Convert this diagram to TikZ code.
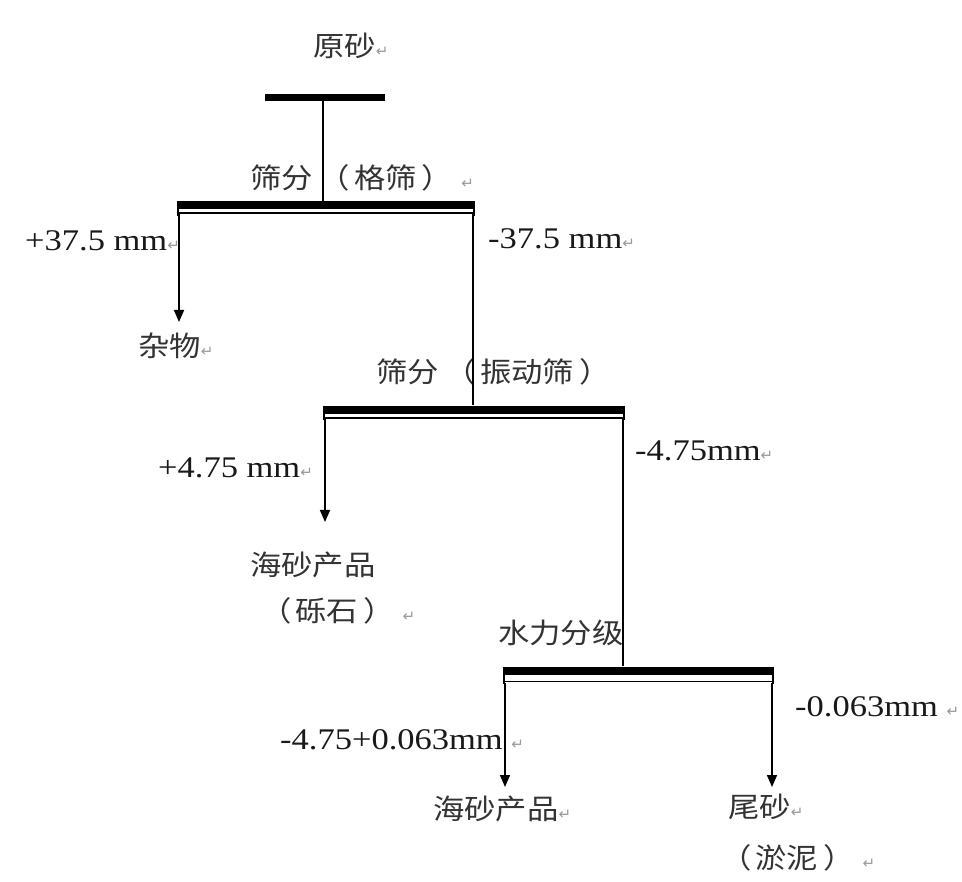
\documentclass[tikz,border=0pt]{standalone}
\usepackage{fontspec}
\setmainfont{Liberation Serif}[FakeStretch=1.15]
\newfontfamily\cjk{Noto Sans CJK SC}[FakeStretch=1.12]
\newfontfamily\symf{DejaVu Sans}
\usetikzlibrary{arrows.meta}
\newcommand\retmark{{\symf\fontsize{15}{15}\selectfont\color{black!40}↵}}
\newcommand\lpar{\hspace{6pt}（\hspace{4pt}}
\newcommand\rpar{\hspace{5pt}）}
\tikzset{
  cn/.style={font=\cjk\fontsize{28}{32}\selectfont, text=black!80, inner sep=0pt, anchor=base west},
  ln/.style={font=\fontsize{30}{32}\selectfont, text=black!90, inner sep=0pt, anchor=base west},
  barline/.style={line width=8pt},
  thinline/.style={line width=1.5pt},
  stem/.style={line width=1.6pt},
  arr/.style={stem, -{Triangle[length=12pt,width=10pt]}}
}
\begin{document}
\begin{tikzpicture}[x=1pt,y=-1pt]
\useasboundingbox[fill=white] (0,0) rectangle (962,882);
% labels
\node[cn] (src) at (313,57) {原砂\retmark};
\node[cn] (l1) at (250,189) {筛分\lpar 格筛\rpar\hspace{8pt}\retmark};
\node[ln] (p375) at (25,251) {+37.5 mm\retmark};
\node[ln] (m375) at (488,249) {-37.5 mm\retmark};
\node[cn] (zawu) at (138,357) {杂物\retmark};
\node[cn] (l2) at (376,383) {筛分\lpar 振动筛\rpar};
\node[ln] (p475) at (158,478) {+4.75 mm\retmark};
\node[ln] (m475) at (635,461) {-4.75mm\retmark};
\node[cn] (hs1) at (250,576) {海砂产品};
\node[cn] (lishi) at (254,621) {\lpar 砾石\rpar\hspace{8pt}\retmark};
\node[cn] (l3) at (498,643) {水力分级};
\node[ln] (m063) at (795,716) {-0.063mm \retmark};
\node[ln] (mid) at (280,749) {-4.75+0.063mm \retmark};
\node[cn] (hs2) at (433,819) {海砂产品\retmark};
\node[cn] (ws) at (728,817) {尾砂\retmark};
\node[cn] (yn) at (714,868) {\lpar 淤泥\rpar\hspace{8pt}\retmark};
% screens
\coordinate (b0l) at (265,98); \coordinate (b0r) at (385,98);
\coordinate (b0m) at (323,98);
\coordinate (s1m) at (323,201);
\coordinate (s1l) at (179,214); \coordinate (s1r) at (473,214);
\coordinate (s2t) at (473,405);
\coordinate (s2l) at (325,419); \coordinate (s2r) at (623,419);
\coordinate (s3t) at (623,666);
\coordinate (s3l) at (505,683); \coordinate (s3r) at (772,683);
\coordinate (t1) at (179,322);
\coordinate (t2) at (325,522);
\coordinate (t3) at (505,787);
\coordinate (t4) at (772,787);
\draw[line width=7pt] (b0l) -- (b0r);
\draw[barline] (178,205) -- (474,205);
\draw[thinline] (178,213) -- (474,213);
\draw[barline] (324,410) -- (624,410);
\draw[thinline] (324,418) -- (624,418);
\draw[barline] (504,671) -- (773,671);
\draw[thinline] (504,681.5) -- (773,681.5);
% connectors
\draw[stem] (b0m) -- (s1m);
\draw[stem] (s1r) -- (s2t);
\draw[stem] (s2r) -- (s3t);
\draw[arr] (s1l) -- (t1);
\draw[arr] (s2l) -- (t2);
\draw[arr] (s3l) -- (t3);
\draw[arr] (s3r) -- (t4);
\draw[thinline] (178,201) -- (178,216);
\draw[thinline] (474,201) -- (474,216);
\draw[thinline] (324,406) -- (324,420);
\draw[thinline] (624,406) -- (624,420);
\draw[thinline] (504,667) -- (504,684);
\draw[thinline] (773,667) -- (773,684);
\end{tikzpicture}
\end{document}
